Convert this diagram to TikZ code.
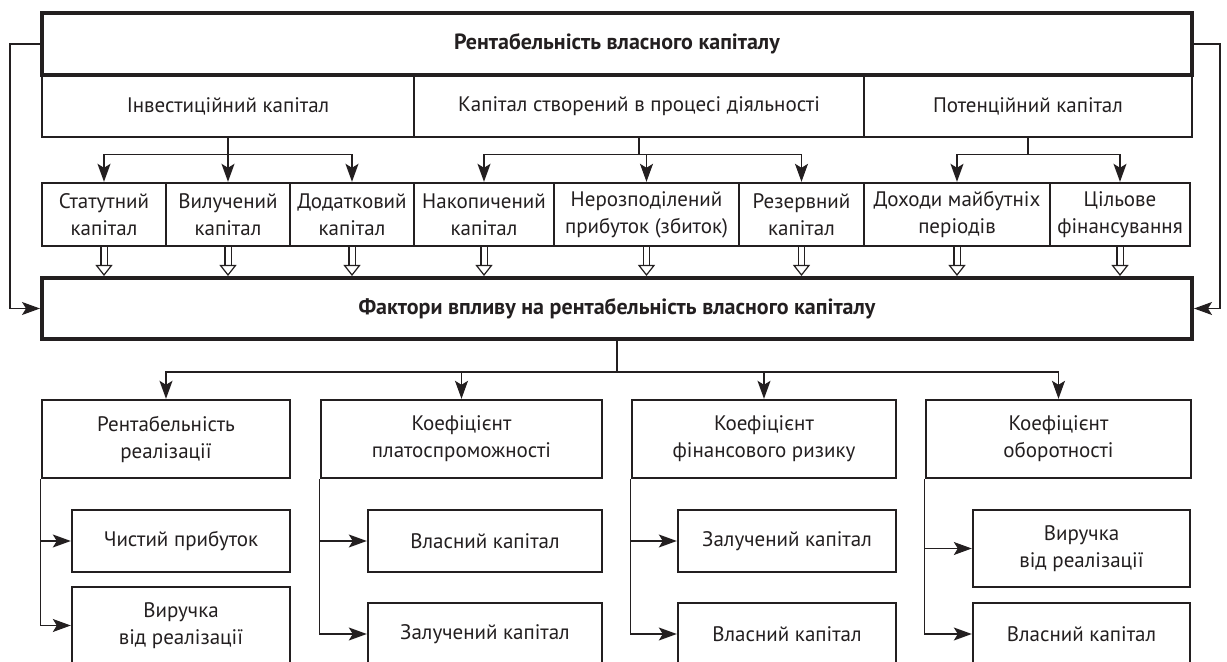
\documentclass[tikz,border=0pt]{standalone}
\usepackage{fontspec}
\setmainfont{PT Sans}
\usetikzlibrary{arrows.meta, positioning, calc}
\definecolor{ink}{RGB}{35,31,32}

\tikzset{
  boxw/.style={minimum width=#1*0.5pt},
  boxh/.style={minimum height=#1*0.5pt},
  box/.style={draw=ink, line width=1.2pt, text=ink, align=center, inner sep=1pt,
    font=\fontsize{10.5}{13.5}\selectfont},
  thickbox/.style={box, line width=2pt, font=\fontsize{11}{13.5}\selectfont\bfseries},
  conn/.style={draw=ink, line width=0.6pt},
  arr/.style={conn, -{Stealth[length=9pt, width=6.5pt, inset=2pt]}},
  hollow/.style={draw=ink, line width=0.6pt, double=white, double distance=2.5pt,
    -{Triangle[open, length=5.5pt, width=8.5pt]}}
}

\begin{document}
\begin{tikzpicture}[x=0.5pt, y=-0.5pt]
    \useasboundingbox (0,0) rectangle (1227,662);

    % Capital groups
    \node[box, boxw=372, boxh=62] (inv) at (228,106) {Інвестиційний капітал};
    \node[box, boxw=450, boxh=62] (proc) at (639,106) {Капітал створений в процесі діяльності};
    \node[box, boxw=328, boxh=62] (pot) at (1028,106) {Потенційний капітал};
    \node[thickbox, boxw=1150, boxh=62] (roe) at (617,44) {Рентабельність власного капіталу};

    % Capital items
    \foreach \n/\x/\w/\t in {s1/104/124/{Статутний\\капітал}, s2/228/124/{Вилучений\\капітал},
        s3/352/124/{Додатковий\\капітал}, s4/484/140/{Накопичений\\капітал},
        s5/646.5/185/{Нерозподілений\\прибуток (збиток)}, s6/801.5/125/{Резервний\\капітал},
        s7/957/186/{Доходи майбутніх\\періодів}, s8/1120/140/{Цільове\\фінансування}} {
        \node[box, boxw=\w, boxh=63] (\n) at (\x,214.5) {\t};
    }
    \foreach \p/\n in {inv/s1, inv/s2, inv/s3, proc/s4, proc/s5, proc/s6, pot/s7, pot/s8} {
        \draw[arr] (\p.south) -- ++(0,16) -| (\n.north);
    }

    % Factors
    \node[thickbox, boxw=1150, boxh=61] (fac) at (617,308.5) {Фактори впливу на рентабельність власного капіталу};
    \foreach \n in {s1,s2,s3,s4,s5,s6,s7,s8} {
        \draw[hollow] (\n.south) -- (\n.south |- fac.north);
    }
    \draw[arr] (roe.west) -- ++(-30,0) |- (fac.west);
    \draw[arr] (roe.east) -- ++(26,0) |- (fac.east);

    % Ratios
    \node[box, boxw=248, boxh=78] (r1) at (166,439) {Рентабельність\\реалізації};
    \node[box, boxw=281, boxh=78] (r2) at (461.5,439) {Коефіцієнт\\платоспроможності};
    \node[box, boxw=264, boxh=78] (r3) at (764,439) {Коефіцієнт\\фінансового ризику};
    \node[box, boxw=265, boxh=78] (r4) at (1058.5,439) {Коефіцієнт\\оборотності};
    \foreach \n in {r1,r2,r3,r4} {
        \draw[arr] (fac.south) -- ++(0,31) -| (\n.north);
    }

    % Ratio components
    \node[box, boxw=218, boxh=62] (a1) at (181,541) {Чистий прибуток};
    \node[box, boxw=218, boxh=77] (a2) at (181,625.5) {Виручка\\від реалізації};
    \node[box, boxw=234, boxh=62] (b1) at (485,541) {Власний капітал};
    \node[box, boxw=234, boxh=62] (b2) at (485,634) {Залучений капітал};
    \node[box, boxw=218, boxh=62] (c1) at (787,541) {Залучений капітал};
    \node[box, boxw=218, boxh=62] (c2) at (787,634) {Власний капітал};
    \node[box, boxw=217, boxh=77] (d1) at (1081.5,548.5) {Виручка\\від реалізації};
    \node[box, boxw=217, boxh=62] (d2) at (1081.5,634) {Власний капітал};
    \foreach \r/\u/\v in {r1/a1/a2, r2/b1/b2, r3/c1/c2, r4/d1/d2} {
        \draw[arr] (\r.south west) |- (\u.west);
        \draw[arr] (\r.south west) |- (\v.west);
    }
\end{tikzpicture}
\end{document}
